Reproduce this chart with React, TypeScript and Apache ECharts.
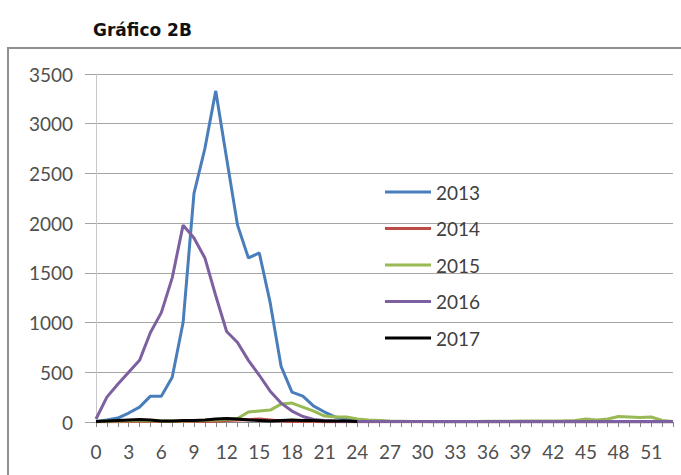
import React, { useEffect, useRef } from "react";
import * as echarts from "echarts";

const weeks = [
  "0", "1", "2", "3", "4", "5", "6", "7", "8", "9", "10", "11", "12", "13", "14", "15", "16", "17",
  "18", "19", "20", "21", "22", "23", "24", "25", "26", "27", "28", "29", "30", "31", "32", "33", "34", "35",
  "36", "37", "38", "39", "40", "41", "42", "43", "44", "45", "46", "47", "48", "49", "50", "51", "52", "53",
];

const y2013 = [
  5, 20, 40, 90, 150, 260, 260, 450, 1000, 2300, 2750, 3330, 2650, 1980, 1650, 1700, 1200, 560,
  300, 260, 160, 100, 50, 25, 15, 10, 8, 5, 5, 4, 4, 3, 3, 3, 3, 3,
  3, 3, 3, 3, 3, 3, 3, 3, 3, 3, 3, 3, 3, 3, 3, 3, 3, 3,
];
const y2014 = [
  2, 3, 3, 4, 5, 5, 4, 4, 5, 5, 6, 8, 15, 20, 25, 30, 20, 10,
  6, 5, 4, 3, 3, 2, 2, 2, 2, 2, 2, 2, 2, 2, 2, 2, 2, 2,
  2, 2, 2, 2, 2, 2, 2, 2, 2, 2, 2, 2, 2, 2, 2, 2, 2, 2,
];
const y2015 = [
  5, 8, 10, 12, 15, 12, 10, 10, 10, 12, 15, 20, 25, 35, 100, 110, 120, 180,
  190, 150, 110, 60, 50, 50, 30, 20, 15, 10, 8, 6, 6, 5, 5, 5, 5, 6,
  8, 8, 8, 10, 10, 10, 10, 12, 15, 30, 20, 30, 55, 50, 45, 50, 15, 5,
];
const y2016 = [
  30, 250, 380, 500, 620, 900, 1100, 1450, 1980, 1850, 1650, 1270, 910, 800, 620, 470, 310, 190,
  110, 55, 25, 15, 10, 8, 6, 5, 5, 5, 5, 5, 5, 5, 5, 5, 5, 5,
  5, 5, 5, 5, 5, 5, 5, 5, 5, 5, 5, 5, 5, 5, 5, 5, 5, 5,
];
const y2017 = [
  5, 10, 15, 20, 25, 20, 10, 10, 15, 15, 20, 30, 35, 30, 20, 15, 10, 15,
  20, 15, 15, 10, 10, 10, 5, null, null, null, null, null, null, null, null, null, null, null,
  null, null, null, null, null, null, null, null, null, null, null, null, null, null, null, null, null, null,
];

const seriesNames = ["2013", "2014", "2015", "2016", "2017"];
const seriesColors = ["#4a7ebb", "#be4b48", "#98b954", "#7d60a0", "#000000"];
const seriesData = [y2013, y2014, y2015, y2016, y2017];

const yTicks = { min: 0, max: 3500, interval: 500 };

export default function App() {
  const ref = useRef<HTMLDivElement>(null);
  useEffect(() => {
    if (!ref.current) return;
    const chart = echarts.init(ref.current, null, { renderer: "svg" });
    const labelFont = "Lato, 'Open Sans', sans-serif";
    chart.setOption({
      animation: false,
      backgroundColor: "#ffffff",
      title: {
        text: "Gráfico 2B",
        left: 88,
        top: 16,
        textStyle: {
          fontFamily: "'DejaVu Sans', sans-serif",
          fontWeight: "bold",
          fontSize: 17,
          color: "#111111",
        },
      },
      graphic: [
        {
          type: "rect",
          shape: { x: 8, y: 48, width: 700, height: 460 },
          style: { fill: "transparent", stroke: "#8f8f8f", lineWidth: 2 },
          z: -1,
        },
      ],
      grid: { left: 96, right: 8, top: 74, bottom: 53, containLabel: false },
      legend: {
        orient: "vertical",
        left: 380,
        top: 177,
        icon: "rect",
        itemWidth: 46,
        itemHeight: 3,
        itemGap: 16.5,
        data: seriesNames,
        textStyle: {
          fontFamily: labelFont,
          fontSize: 19,
          lineHeight: 20,
          color: "#404040",
        },
      },
      xAxis: {
        type: "category",
        boundaryGap: false,
        data: weeks,
        axisLine: { show: true, lineStyle: { color: "#868686", width: 1 } },
        axisTick: { show: true, interval: 0, length: 5, lineStyle: { color: "#868686" } },
        axisLabel: {
          interval: 2,
          margin: 20,
          fontFamily: labelFont,
          fontSize: 19,
          color: "#505050",
        },
        splitLine: { show: false },
      },
      yAxis: {
        type: "value",
        min: yTicks.min,
        max: yTicks.max,
        interval: yTicks.interval,
        axisLine: { show: true, lineStyle: { color: "#c8c8c8", width: 1 } },
        axisTick: { show: true, length: 11, lineStyle: { color: "#a6a6a6" } },
        axisLabel: {
          margin: 23,
          fontFamily: labelFont,
          fontSize: 19,
          color: "#505050",
          formatter: (v: number) => String(v),
        },
        splitLine: { show: true, lineStyle: { color: "#a6a6a6", width: 1 } },
      },
      series: seriesNames.map((name, i) => ({
        name,
        type: "line",
        data: seriesData[i],
        symbol: "none",
        showSymbol: false,
        connectNulls: false,
        lineStyle: { color: seriesColors[i], width: 3 },
        itemStyle: { color: seriesColors[i] },
        z: 2 + i,
      })),
    });
    return () => chart.dispose();
  }, []);
  return (
    <div
      ref={ref}
      style={{ position: "fixed", left: 0, top: 0, width: 681, height: 475 }}
    />
  );
}
